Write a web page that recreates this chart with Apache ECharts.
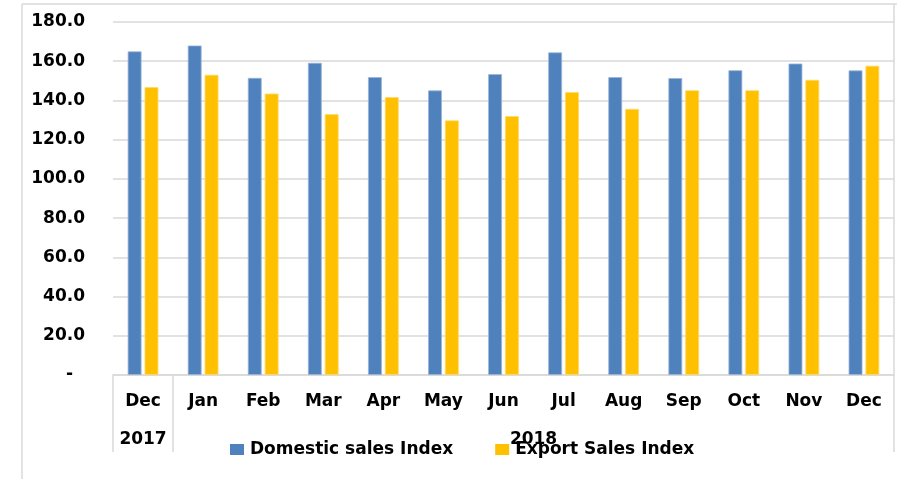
<!DOCTYPE html>
<html>
<head>
<meta charset="utf-8">
<script src="https://cdn.jsdelivr.net/npm/echarts@6/dist/echarts.min.js"></script>
<style>
html,body{margin:0;padding:0;background:#fff;}
#chart{width:897px;height:479px;}
</style>
</head>
<body>
<div id="chart"></div>
<script>
const months = ['Dec','Jan','Feb','Mar','Apr','May','Jun','Jul','Aug','Sep','Oct','Nov','Dec'];
const yearLabels = ['2017','2018'];
const yearCenters = [0, 6.5];
const yearBoundaries = [-0.5, 0.5, 12.5];
const domestic = [165.0, 168.0, 151.5, 159.2, 151.9, 145.1, 153.4, 164.5, 151.9, 151.4, 155.4, 158.8, 155.3];
const exportIdx = [146.8, 153.1, 143.5, 133.0, 141.7, 129.8, 132.0, 144.2, 135.7, 145.2, 145.2, 150.5, 157.7];
const seriesNames = ['Domestic sales Index', 'Export Sales Index'];

const FONT = 'DejaVu Sans';
const FS = 17;
const GRAY = '#d9d9d9';
const chart = echarts.init(document.getElementById('chart'));
chart.setOption({
  animation: false,
  textStyle: {fontFamily: FONT},
  grid: {left: 113, right: 3, top: 22, bottom: 104, containLabel: false},
  legend: {
    left: 230, top: 441, padding: 0,
    itemWidth: 14, itemHeight: 11, itemGap: 42,
    icon: 'rect',
    itemStyle: {borderWidth: 0},
    textStyle: {fontFamily: FONT, fontWeight: 'bold', fontSize: FS, color: '#000', padding: [0,0,0,1]},
    data: seriesNames
  },
  xAxis: [
    {
      type: 'category', data: months, position: 'bottom',
      axisLine: {lineStyle: {color: GRAY, width: 1.5}},
      axisTick: {show: false},
      axisLabel: {fontFamily: FONT, fontWeight: 'bold', fontSize: FS, color: '#000', margin: 18, interval: 0}
    },
    {
      type: 'value', min: -0.5, max: 12.5, position: 'bottom',
      axisLine: {show: false},
      splitLine: {show: false},
      axisTick: {show: true, customValues: yearBoundaries, length: 77, lineStyle: {color: GRAY, width: 1.5}},
      axisLabel: {
        customValues: yearCenters,
        formatter: function (v) { return yearLabels[yearCenters.indexOf(v)]; },
        fontFamily: FONT, fontWeight: 'bold', fontSize: FS, color: '#000', margin: 56
      }
    }
  ],
  yAxis: {
    type: 'value', min: 0, max: 180, interval: 20,
    axisLine: {show: false}, axisTick: {show: false},
    splitLine: {lineStyle: {color: GRAY, width: 1.5}},
    axisLabel: {
      fontFamily: FONT, fontWeight: 'bold', fontSize: FS, color: '#000', margin: 28,
      formatter: function (v) { return v === 0 ? '-  ' : v.toFixed(1); }
    }
  },
  series: [
    {name: seriesNames[0], type: 'bar', data: domestic, barWidth: '23%', barGap: '22%',
     itemStyle: {color: '#4f81bd', borderColor: '#9bb5d8', borderWidth: 0.8}},
    {name: seriesNames[1], type: 'bar', data: exportIdx, barWidth: '23%', barGap: '22%',
     itemStyle: {color: '#ffc000', borderColor: '#ffd966', borderWidth: 0.8}}
  ],
  graphic: [
    {type: 'line', shape: {x1: 22, y1: 4, x2: 897, y2: 4}, style: {stroke: GRAY, lineWidth: 1.5}, silent: true},
    {type: 'line', shape: {x1: 22, y1: 4, x2: 22, y2: 479}, style: {stroke: GRAY, lineWidth: 1.5}, silent: true},
    {type: 'line', shape: {x1: 894, y1: 4, x2: 894, y2: 375}, style: {stroke: GRAY, lineWidth: 1.5}, silent: true}
  ]
});
</script>
</body>
</html>
